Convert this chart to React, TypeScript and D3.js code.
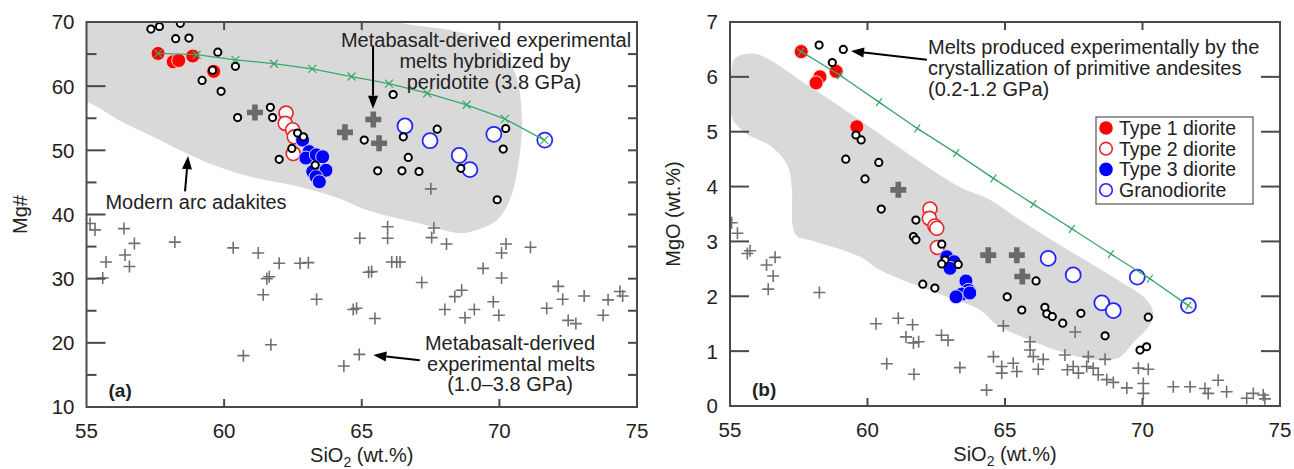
import React from 'react';
import * as d3 from 'd3';

type P = [number, number];

// ---------- Panel (a): SiO2 vs Mg# ----------
const aType1: P[] = [[57.6, 65.1], [58.15, 63.8], [58.35, 64.0], [58.86, 64.7], [59.62, 62.3]];
const aType2: P[] = [[62.25, 55.8], [62.22, 54.2], [62.49, 53.2], [62.55, 52.1], [62.51, 49.5]];
const aType3: P[] = [[62.85, 51.6], [63.09, 49.8], [62.97, 48.8], [63.35, 49.3], [63.58, 49.0], [63.7, 46.9], [63.22, 46.7], [63.34, 45.9], [63.46, 45.1]];
const aGranodiorite: P[] = [[66.57, 53.8], [67.48, 51.5], [68.54, 49.2], [68.93, 47.0], [69.8, 52.5], [71.65, 51.6]];
const aAndesiteMelts: P[] = [
  [57.34, 68.9], [57.65, 69.3], [58.41, 69.8], [58.24, 67.4], [58.72, 67.5], [59.77, 65.3], [59.58, 62.5],
  [60.41, 63.1], [59.2, 60.9], [59.89, 59.2], [60.49, 55.1], [61.68, 56.7], [61.76, 55.1], [62.67, 52.7],
  [62.88, 52.1], [62.46, 50.3], [62.0, 48.6], [63.31, 47.7], [66.14, 58.7], [65.09, 51.6], [66.51, 52.1],
  [67.74, 53.3], [66.69, 48.9], [65.58, 46.8], [66.46, 46.8], [67.08, 46.7], [68.6, 47.2], [70.23, 53.4],
  [70.14, 50.2], [69.92, 42.3],
];
const aHybridMelts: P[] = [[61.12, 55.9], [64.39, 52.8], [65.42, 54.8], [65.63, 51.1]];
const aMetabasaltMelts: P[] = [
  [55.13, 38.6], [55.31, 37.6], [56.36, 37.8], [56.74, 35.5], [55.71, 32.6], [56.4, 33.7], [56.56, 31.9],
  [55.59, 30.1], [58.21, 35.7], [60.33, 34.8], [61.24, 34.0], [62.0, 32.4], [61.64, 30.3], [61.55, 30.0],
  [61.42, 27.5], [62.76, 32.4], [63.06, 32.5], [63.36, 26.8], [60.7, 18.0], [61.7, 19.7], [64.93, 36.3],
  [65.94, 38.1], [65.94, 36.3], [67.62, 37.9], [67.54, 36.4], [68.08, 35.4], [70.24, 35.4], [70.08, 34.0],
  [71.13, 34.9], [65.36, 31.1], [65.25, 31.0], [66.09, 32.6], [66.27, 32.6], [66.39, 32.6], [67.18, 29.4],
  [69.41, 31.6], [70.08, 30.1], [68.63, 28.2], [68.38, 27.2], [68.02, 25.2], [68.75, 23.9], [69.09, 25.2],
  [69.78, 26.4], [69.98, 24.3], [64.81, 25.4], [64.69, 25.2], [65.48, 23.8], [72.14, 28.8], [72.3, 26.8],
  [71.72, 25.4], [73.08, 27.3], [72.5, 23.5], [72.78, 23.0], [73.77, 24.3], [73.95, 26.7], [74.38, 28.0],
  [74.48, 27.3], [64.91, 18.2], [64.35, 16.4], [67.51, 44.0],
];
const aCrystallizationPath: P[] = [
  [57.6, 65.1], [59.0, 64.9], [60.41, 64.1], [61.81, 63.5], [63.2, 62.7], [64.63, 61.5], [65.99, 60.4],
  [67.38, 58.9], [68.81, 57.1], [70.2, 54.9], [71.63, 51.6],
];
const aAdakiteField: P[] = [
  [54.0, 71.5], [65.0, 71.0], [66.6, 69.7], [68.67, 68.3], [70.02, 65.6], [70.6, 61.7], [70.82, 54.3],
  [70.64, 46.5], [70.38, 42.3], [69.91, 39.1], [69.18, 37.6], [68.57, 37.1], [67.0, 38.7], [65.19, 40.7],
  [64.06, 42.7], [62.76, 44.3], [61.05, 45.8], [59.81, 47.4], [58.61, 49.6], [57.42, 52.1], [56.18, 54.7],
  [55.09, 57.4], [54.0, 58.6],
];

// ---------- Panel (b): SiO2 vs MgO ----------
const bType1: P[] = [[57.59, 6.46], [58.27, 6.0], [58.13, 5.89], [58.86, 6.1], [59.61, 5.09]];
const bType2: P[] = [[62.27, 3.59], [62.25, 3.42], [62.45, 3.28], [62.52, 3.24], [62.54, 2.89]];
const bType3: P[] = [[62.88, 2.72], [63.15, 2.63], [63.0, 2.51], [63.58, 2.28], [63.67, 2.11], [63.43, 2.04], [63.22, 1.99], [63.72, 2.06]];
const bGranodiorite: P[] = [[66.57, 2.69], [67.48, 2.39], [68.52, 1.88], [68.94, 1.74], [69.81, 2.35], [71.67, 1.83]];
const bAndesiteMelts: P[] = [
  [58.24, 6.58], [59.12, 6.5], [58.72, 6.26], [59.58, 4.94], [59.77, 4.85], [59.21, 4.5], [60.41, 4.44],
  [59.91, 4.14], [60.5, 3.59], [61.76, 3.39], [61.67, 3.09], [61.76, 3.03], [62.7, 2.95], [62.82, 2.66],
  [62.7, 2.59], [63.3, 2.58], [62.01, 2.22], [62.45, 2.15], [66.13, 2.28], [65.08, 1.99], [65.61, 1.75],
  [66.45, 1.8], [66.52, 1.68], [66.72, 1.63], [67.1, 1.51], [67.76, 1.69], [68.64, 1.28], [70.21, 1.62],
  [69.91, 1.02], [70.15, 1.08],
];
const bHybridMelts: P[] = [[61.12, 3.94], [64.39, 2.75], [65.43, 2.75], [65.63, 2.36]];
const bMetabasaltMelts: P[] = [
  [55.06, 3.34], [55.27, 3.15], [55.73, 2.83], [55.63, 2.78], [56.33, 2.57], [56.64, 2.71], [56.57, 2.37],
  [56.39, 2.13], [58.25, 2.07], [60.31, 1.5], [61.12, 1.6], [61.64, 1.48], [61.4, 1.26], [61.67, 1.15],
  [61.86, 1.17], [62.69, 1.29], [62.93, 1.2], [60.7, 0.77], [61.69, 0.58], [63.36, 0.7], [64.33, 0.29],
  [64.94, 1.46], [65.91, 1.17], [65.91, 1.02], [66.03, 0.9], [64.58, 0.9], [64.88, 0.72], [64.88, 0.6],
  [65.3, 0.78], [65.43, 0.63], [66.21, 0.67], [66.39, 0.85], [67.55, 1.35], [67.18, 0.93], [67.48, 0.72],
  [67.27, 0.66], [67.67, 0.6], [68.03, 0.9], [67.97, 0.72], [68.21, 0.69], [68.64, 0.85], [68.39, 0.57],
  [68.7, 0.48], [68.94, 0.43], [69.43, 0.33], [69.85, 0.69], [70.21, 0.67], [70.03, 0.41], [70.03, 0.23],
  [71.12, 0.35], [71.73, 0.35], [72.27, 0.32], [72.39, 0.23], [72.75, 0.47], [73.06, 0.26], [73.79, 0.14],
  [74.03, 0.23], [74.39, 0.2], [74.45, 0.13],
];
const bCrystallizationPath: P[] = [
  [57.59, 6.46], [59.0, 6.03], [60.42, 5.54], [61.81, 5.06], [63.22, 4.61], [64.58, 4.15], [66.03, 3.68],
  [67.43, 3.23], [68.85, 2.77], [70.27, 2.32], [71.67, 1.83],
];
const bAdakiteField: P[] = [
  [55.91, 6.42], [57.91, 5.82], [59.73, 5.21], [61.65, 4.54], [63.36, 3.99], [64.45, 3.76], [65.55, 3.39],
  [67.11, 2.9], [68.93, 2.35], [70.16, 1.93], [70.38, 1.71], [70.27, 1.48], [69.65, 1.15], [69.18, 0.89],
  [68.71, 0.84], [67.73, 0.89], [65.91, 1.2], [64.71, 1.48], [64.09, 1.75], [62.89, 1.99], [60.45, 2.48],
  [59.73, 2.72], [57.84, 3.03], [57.47, 3.08], [57.29, 3.26], [57.25, 3.94], [57.11, 4.36], [56.53, 4.72],
  [55.55, 4.98], [55.07, 5.27], [55.07, 6.18], [55.18, 6.34],
];

const xTickValues = [55, 60, 65, 70, 75];
const aYTicks = [10, 20, 30, 40, 50, 60, 70];
const aYMinor = [15, 25, 35, 45, 55, 65];
const bYTicks = [0, 1, 2, 3, 4, 5, 6, 7];
const legendLabels = ['Type 1 diorite', 'Type 2 diorite', 'Type 3 diorite', 'Granodiorite'];

const FONT = "'Liberation Sans', Arial, Helvetica, sans-serif";
const AXIS = '#4a4a4a';
const GRAY_FIELD = '#d9d9d9';
const CROSS = '#707070';
const GREEN = '#3aa86b';
const RED = '#ff0000';
const BLUE = '#0000ff';

type Scale = d3.ScaleLinear<number, number>;

function thinCross(cx: number, cy: number, key: string | number) {
  const s = 6;
  return (
    <path key={key} d={`M${cx - s},${cy}H${cx + s}M${cx},${cy - s}V${cy + s}`} stroke={CROSS} strokeWidth={1.6} fill="none" />
  );
}

function thickCross(cx: number, cy: number, key: string | number) {
  const s = 8, w = 2.8;
  const d = `M${cx - w},${cy - s}H${cx + w}V${cy - w}H${cx + s}V${cy + w}H${cx + w}V${cy + s}H${cx - w}V${cy + w}H${cx - s}V${cy - w}H${cx - w}Z`;
  return <path key={key} d={d} fill="#6a6a6a" />;
}

interface PanelProps {
  id: string;
  xRange: [number, number];
  yDomain: [number, number];
  yRange: [number, number];
  yTicks: number[];
  yMinor: number[];
  yMajorLen: number;
  yRightMajorLen: number;
  field: P[];
  metabasalt: P[];
  hybrid: P[];
  andesite: P[];
  t1: P[];
  t2: P[];
  t3: P[];
  gd: P[];
  path: P[];
  pathMark: 'x' | '+';
  yTitle: React.ReactNode;
  yTitleX: number;
  tag: string;
  extra: (x: Scale, y: Scale) => React.ReactNode;
}

function Panel(p: PanelProps) {
  const x = d3.scaleLinear().domain([55, 75]).range(p.xRange);
  const y = d3.scaleLinear().domain(p.yDomain).range(p.yRange);
  const [x0, x1] = p.xRange;
  const [yb, yt] = p.yRange;
  const line = d3.line<P>().x(d => x(d[0])).y(d => y(d[1]));
  const fieldLine = d3
    .line<P>()
    .x(d => x(d[0]))
    .y(d => y(d[1]))
    .curve(d3.curveCatmullRomClosed.alpha(0.5));
  const clipId = `clip-${p.id}`;
  const innerX = xTickValues.filter(v => v > 55 && v < 75);
  return (
    <g>
      <defs>
        <clipPath id={clipId}>
          <rect x={x0} y={yt} width={x1 - x0} height={yb - yt} />
        </clipPath>
      </defs>
      <g clipPath={`url(#${clipId})`}>
        <path d={fieldLine(p.field) || ''} fill={GRAY_FIELD} stroke="none" />
        {p.metabasalt.map((d, i) => thinCross(x(d[0]), y(d[1]), i))}
        {p.hybrid.map((d, i) => thickCross(x(d[0]), y(d[1]), i))}
        {p.t1.map((d, i) => (
          <circle key={`t1${i}`} cx={x(d[0])} cy={y(d[1])} r={7} fill={RED} stroke="#ffd0d0" strokeWidth={1} />
        ))}
        {p.t2.map((d, i) => (
          <circle key={`t2${i}`} cx={x(d[0])} cy={y(d[1])} r={7} fill="#fff" stroke="#e8262a" strokeWidth={1.6} />
        ))}
        {p.t3.map((d, i) => (
          <circle key={`t3${i}`} cx={x(d[0])} cy={y(d[1])} r={7} fill={BLUE} stroke="#d8d8ff" strokeWidth={1} />
        ))}
        {p.gd.map((d, i) => (
          <circle key={`gd${i}`} cx={x(d[0])} cy={y(d[1])} r={7.5} fill="#fff" stroke="#2424ff" strokeWidth={1.8} />
        ))}
        {p.andesite.map((d, i) => (
          <circle key={`an${i}`} cx={x(d[0])} cy={y(d[1])} r={3.6} fill="#fff" stroke="#000" strokeWidth={2} />
        ))}
        <path d={line(p.path) || ''} fill="none" stroke={GREEN} strokeWidth={1.3} />
        {p.path.map((d, i) => {
          const cx = x(d[0]), cy = y(d[1]), s = 4;
          const dd = p.pathMark === 'x'
            ? `M${cx - s},${cy - s}L${cx + s},${cy + s}M${cx - s},${cy + s}L${cx + s},${cy - s}`
            : `M${cx - s},${cy - s * 0.7}L${cx + s},${cy + s * 0.7}M${cx - s * 0.7},${cy + s}L${cx + s * 0.7},${cy - s}`;
          return <path key={`m${i}`} d={dd} stroke={GREEN} strokeWidth={1.2} fill="none" />;
        })}
      </g>
      {/* frame */}
      <rect x={x0} y={yt} width={x1 - x0} height={yb - yt} fill="none" stroke={AXIS} strokeWidth={2} />
      {/* x ticks */}
      {innerX.map(v => (
        <g key={`xt${v}`}>
          <line x1={x(v)} x2={x(v)} y1={yb} y2={yb - 8} stroke={AXIS} strokeWidth={2} />
          <line x1={x(v)} x2={x(v)} y1={yt} y2={yt + 8} stroke={AXIS} strokeWidth={2} />
        </g>
      ))}
      {xTickValues.map(v => (
        <text key={`xl${v}`} x={x(v)} y={yb + 31} textAnchor="middle" fontSize={20.5} fontFamily={FONT} fill="#222">
          {v}
        </text>
      ))}
      {/* y ticks */}
      {p.yTicks.filter(v => v !== p.yDomain[0] && v !== p.yDomain[1]).map(v => (
        <g key={`yt${v}`}>
          <line x1={x0} x2={x0 + p.yMajorLen} y1={y(v)} y2={y(v)} stroke={AXIS} strokeWidth={2} />
          <line x1={x1} x2={x1 - p.yRightMajorLen} y1={y(v)} y2={y(v)} stroke={AXIS} strokeWidth={2} />
        </g>
      ))}
      {p.yMinor.map(v => (
        <g key={`ym${v}`}>
          <line x1={x0} x2={x0 + 10} y1={y(v)} y2={y(v)} stroke={AXIS} strokeWidth={2} />
          <line x1={x1} x2={x1 - 9} y1={y(v)} y2={y(v)} stroke={AXIS} strokeWidth={2} />
        </g>
      ))}
      {p.yTicks.map(v => (
        <text key={`yl${v}`} x={x0 - 12} y={y(v)} dy="0.36em" textAnchor="end" fontSize={20.5} fontFamily={FONT} fill="#222">
          {v}
        </text>
      ))}
      {/* axis titles */}
      <text x={(x0 + x1) / 2} y={yb + 55} textAnchor="middle" fontSize={20} fontFamily={FONT} fill="#222">
        SiO<tspan fontSize={14} dy={5}>2</tspan>
        <tspan dy={-5}> (wt.%)</tspan>
      </text>
      <text
        transform={`translate(${p.yTitleX},${(yb + yt) / 2}) rotate(-90)`}
        textAnchor="middle"
        dy="0.36em"
        fontSize={20}
        fontFamily={FONT}
        fill="#222"
      >
        {p.yTitle}
      </text>
      <text x={x0 + 22} y={yb - 10} fontSize={19} fontWeight="bold" fontFamily={FONT} fill="#222">
        {p.tag}
      </text>
      {p.extra(x, y)}
    </g>
  );
}

function Arrow({ x1, y1, x2, y2 }: { x1: number; y1: number; x2: number; y2: number }) {
  const ang = Math.atan2(y2 - y1, x2 - x1);
  const L = 13, W = 5;
  const bx = x2 - L * Math.cos(ang), by = y2 - L * Math.sin(ang);
  const nx = -Math.sin(ang), ny = Math.cos(ang);
  return (
    <g>
      <line x1={x1} y1={y1} x2={bx} y2={by} stroke="#000" strokeWidth={2} />
      <path d={`M${x2},${y2}L${bx + nx * W},${by + ny * W}L${bx - nx * W},${by - ny * W}Z`} fill="#000" />
    </g>
  );
}

const TXT = { fontSize: 20, fontFamily: FONT, fill: '#222' } as const;
const LEG = { fontSize: 19.5, fontFamily: FONT, fill: '#222' } as const;

export default function App() {
  return (
    <svg
      width={1294}
      height={469}
      viewBox="0 0 1294 469"
      style={{ position: 'absolute', left: 0, top: 0, background: '#fff' }}
    >
      <rect width={1294} height={469} fill="#fff" />
      <Panel
        id="a"
        xRange={[86.5, 637]}
        yDomain={[10, 70]}
        yRange={[407, 22]}
        yTicks={aYTicks}
        yMinor={aYMinor}
        yMajorLen={19}
        yRightMajorLen={9}
        field={aAdakiteField}
        metabasalt={aMetabasaltMelts}
        hybrid={aHybridMelts}
        andesite={aAndesiteMelts}
        t1={aType1}
        t2={aType2}
        t3={aType3}
        gd={aGranodiorite}
        path={aCrystallizationPath}
        pathMark="x"
        yTitle="Mg#"
        yTitleX={20}
        tag="(a)"
        extra={(x, y) => (
          <g>
            <text x={486} y={47} textAnchor="middle" {...TXT}>Metabasalt-derived experimental</text>
            <text x={485} y={68} textAnchor="middle" {...TXT}>melts hybridized by</text>
            <text x={494} y={89} textAnchor="middle" {...TXT}>peridotite (3.8 GPa)</text>
            <Arrow x1={x(65.41)} y1={y(66.1)} x2={x(65.41)} y2={y(56.5)} />
            <text x={196} y={209} textAnchor="middle" {...TXT}>Modern arc adakites</text>
            <Arrow x1={x(58.58)} y1={y(43.6)} x2={x(58.69)} y2={y(49.1)} />
            <text x={510} y={350} textAnchor="middle" {...TXT}>Metabasalt-derived</text>
            <text x={511} y={371} textAnchor="middle" {...TXT}>experimental melts</text>
            <text x={510} y={391} textAnchor="middle" {...TXT}>(1.0–3.8 GPa)</text>
            <Arrow x1={x(67.11)} y1={y(17.3)} x2={x(65.42)} y2={y(18.1)} />
          </g>
        )}
      />
      <Panel
        id="b"
        xRange={[730, 1280]}
        yDomain={[0, 7]}
        yRange={[406, 22]}
        yTicks={bYTicks}
        yMinor={[]}
        yMajorLen={19}
        yRightMajorLen={19}
        field={bAdakiteField}
        metabasalt={bMetabasaltMelts}
        hybrid={bHybridMelts}
        andesite={bAndesiteMelts}
        t1={bType1}
        t2={bType2}
        t3={bType3}
        gd={bGranodiorite}
        path={bCrystallizationPath}
        pathMark="+"
        yTitle="MgO (wt.%)"
        yTitleX={673}
        tag="(b)"
        extra={(x, y) => (
          <g>
            <text x={928} y={54} {...TXT}>Melts produced experimentally by the</text>
            <text x={928} y={75} {...TXT}>crystallization of primitive andesites</text>
            <text x={928} y={96} {...TXT}>(0.2-1.2 GPa)</text>
            <Arrow x1={x(62.16)} y1={y(6.31)} x2={x(59.4)} y2={y(6.47)} />
            <g>
              <rect x={1096} y={117} width={157} height={87} fill="#fff" stroke="#555" strokeWidth={1.2} />
              {legendLabels.map((lab, i) => {
                const cy = 128 + i * 20.7;
                const filled = i === 0 || i === 2;
                const col = i < 2 ? (i === 0 ? RED : '#e8262a') : i === 2 ? BLUE : '#2424ff';
                return (
                  <g key={lab}>
                    <circle
                      cx={1106}
                      cy={cy}
                      r={filled ? 6.8 : 6.3}
                      fill={filled ? col : '#fff'}
                      stroke={filled ? 'none' : col}
                      strokeWidth={1.6}
                    />
                    <text x={1119} y={cy} dy="0.36em" {...LEG}>{lab}</text>
                  </g>
                );
              })}
            </g>
          </g>
        )}
      />
    </svg>
  );
}
